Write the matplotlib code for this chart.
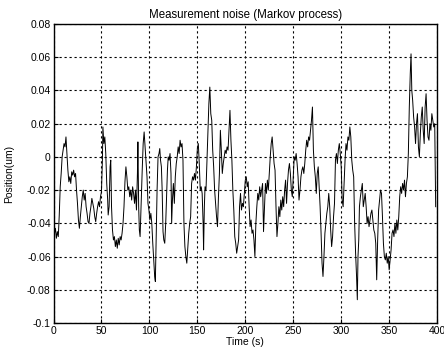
import matplotlib
matplotlib.use("Agg")
import matplotlib.pyplot as plt

title = "Measurement noise (Markov process)"
xlabel = "Time (s)"
ylabel = "Position(um)"
xticks = [0, 50, 100, 150, 200, 250, 300, 350, 400]
yticks = [-0.1, -0.08, -0.06, -0.04, -0.02, 0, 0.02, 0.04, 0.06, 0.08]
ytick_labels = ["-0.1", "-0.08", "-0.06", "-0.04", "-0.02", "0", "0.02", "0.04", "0.06", "0.08"]

time_s = [
    0, 1, 2, 3, 4, 5, 6, 7, 8, 9, 10, 11, 12, 13, 14, 15, 16, 17, 18, 19,
    20, 21, 22, 23, 24, 25, 26, 27, 28, 29, 30, 31, 32, 33, 34, 35, 36, 37, 38, 39,
    40, 41, 42, 43, 44, 45, 46, 47, 48, 49, 50, 51, 51.5, 52.5, 53.5, 54.5, 55.5, 56.5, 57, 58,
    59, 59.7, 60.5, 61.5, 62.5, 63.5, 64.5, 65.5, 66.5, 67.5, 68.5, 69.5, 70.5, 71.5, 72.5, 73.5, 74.5, 75.5, 76.5, 77.5,
    78.5, 79.5, 80.5, 81.5, 82.5, 83.5, 84.5, 85.5, 86.5, 87.5, 88, 88.8, 89.5, 90.3, 91, 91.8, 92.5, 93.5, 94.5, 95.5,
    96.5, 97.5, 98.5, 99.5, 100.5, 101.5, 102.5, 103.5, 104.5, 105.5, 106.2, 107, 108, 109, 110, 110.8, 111.6, 112.5, 113.3, 114.2,
    115, 116, 117, 118, 118.8, 119.6, 120.5, 121.5, 122.5, 123.2, 124, 125, 126, 127, 128, 129, 130, 131, 132, 133,
    134, 135, 136, 137, 138, 139, 140, 141, 142, 143, 144, 145, 146, 147, 148, 149, 150, 151, 152, 153,
    154, 155, 156, 156.5, 157.3, 158, 159, 160, 161, 162, 163, 164, 165, 166, 167, 168, 169, 170, 171, 172,
    173, 174, 175, 176, 177, 178, 179, 180, 181, 182, 183, 184, 185, 186, 187, 188, 189, 190, 191, 192,
    193, 194, 195, 196, 197, 198, 199, 200, 201, 202, 203, 204, 205, 206, 207, 208, 209, 210, 211, 212,
    213, 214, 215, 216, 217, 218, 219, 220, 221, 222, 223, 224, 225, 226, 227, 228, 229, 230, 231, 232,
    233, 234, 235, 236, 237, 238, 239, 240, 241, 242, 243, 244, 245, 246, 247, 248, 249, 250, 251, 252,
    253, 254, 255, 256, 257, 258, 259, 260, 261, 262, 263, 264, 265, 266, 267, 268, 269, 270, 271, 272,
    273, 274, 275, 276, 277, 278, 279, 280, 281, 282, 283, 284, 285, 286, 287, 288, 289, 290, 291, 292,
    293, 294, 295, 296, 297, 298, 299, 300, 301, 302, 303, 304, 305, 306, 307, 308, 309, 310, 311, 312,
    313, 314, 315, 316, 316.8, 317.5, 318.3, 319, 320, 321, 322, 323, 324, 325, 326, 327, 328, 329, 330, 331,
    332, 333, 334, 335, 336, 337, 338, 339, 340, 341, 342, 343, 344, 345, 346, 347, 348, 349, 350, 351,
    352, 353, 354, 355, 356, 357, 358, 359, 360, 361, 362, 363, 364, 365, 366, 367, 368, 369, 370, 371,
    372, 372.8, 373.6, 374.5, 375.5, 376.5, 377.5, 378.5, 379.5, 380.5, 381.5, 382.5, 383.5, 384.5, 385.5, 386.5, 387.5, 388.5, 389.5, 390.5,
    391.5, 392.5, 393.5, 394.5, 395.5, 396.5, 397.5, 398, 398.5,
]

position_um = [
    -0.040, -0.046, -0.043, -0.049, -0.045, -0.048, -0.035, -0.018, -0.010, 0.000, 0.004, 0.008, 0.006, 0.012, 0.002, -0.008, -0.015, -0.012, -0.016, -0.009,
    -0.011, -0.008, -0.012, -0.010, -0.020, -0.028, -0.038, -0.043, -0.036, -0.030, -0.024, -0.020, -0.026, -0.022, -0.030, -0.034, -0.039, -0.040, -0.034, -0.030,
    -0.025, -0.028, -0.031, -0.036, -0.039, -0.034, -0.030, -0.027, -0.030, -0.024, -0.021, -0.002, 0.018, 0.008, 0.012, 0.002, -0.016, -0.026, -0.035, -0.030,
    -0.006, -0.002, -0.030, -0.044, -0.050, -0.048, -0.054, -0.050, -0.055, -0.049, -0.053, -0.048, -0.050, -0.046, -0.040, -0.030, -0.015, -0.006, -0.012, -0.020,
    -0.018, -0.024, -0.020, -0.026, -0.018, -0.022, -0.028, -0.020, -0.032, -0.010, 0.009, -0.030, -0.044, -0.048, -0.035, -0.018, -0.008, 0.008, 0.015, 0.006,
    -0.004, -0.012, -0.028, -0.032, -0.038, -0.034, -0.040, -0.052, -0.062, -0.072, -0.075, -0.050, -0.020, 0.000, 0.002, 0.005, -0.002, -0.006, -0.020, -0.045,
    -0.050, -0.052, -0.040, -0.022, -0.008, 0.000, -0.002, 0.002, -0.010, -0.040, -0.026, -0.016, -0.028, -0.012, -0.004, 0.000, 0.006, 0.002, 0.010, 0.006,
    0.008, -0.002, -0.040, -0.054, -0.060, -0.064, -0.055, -0.046, -0.040, -0.036, -0.016, -0.012, -0.014, -0.010, -0.014, -0.006, 0.005, 0.008, -0.004, -0.020,
    -0.018, -0.022, -0.040, -0.056, -0.030, -0.018, -0.020, -0.002, 0.018, 0.032, 0.042, 0.026, 0.022, 0.004, -0.006, -0.020, -0.028, -0.036, -0.042, -0.024,
    -0.010, 0.016, 0.004, -0.010, -0.004, 0.000, 0.004, 0.002, 0.006, 0.004, 0.016, 0.028, 0.010, -0.002, -0.020, -0.032, -0.048, -0.052, -0.058, -0.054,
    -0.050, -0.030, -0.022, -0.032, -0.028, -0.030, -0.022, -0.014, -0.012, -0.018, -0.015, -0.030, -0.042, -0.038, -0.046, -0.044, -0.050, -0.060, -0.040, -0.030,
    -0.022, -0.026, -0.018, -0.024, -0.020, -0.016, -0.045, -0.030, -0.016, -0.022, -0.014, -0.020, -0.010, 0.000, 0.008, 0.012, 0.004, -0.004, -0.008, -0.030,
    -0.048, -0.040, -0.030, -0.036, -0.026, -0.032, -0.024, -0.030, -0.020, -0.014, -0.028, -0.016, -0.008, -0.004, -0.010, -0.020, -0.024, -0.012, 0.000, -0.002,
    0.002, -0.004, -0.012, -0.026, -0.020, -0.012, -0.008, -0.006, -0.010, -0.004, 0.004, 0.010, 0.006, 0.012, 0.010, 0.016, 0.022, 0.030, 0.004, -0.006,
    -0.012, -0.022, -0.010, -0.006, -0.018, -0.030, -0.046, -0.064, -0.072, -0.060, -0.046, -0.040, -0.034, -0.030, -0.022, -0.030, -0.044, -0.054, -0.048, -0.036,
    -0.028, -0.002, 0.002, -0.004, 0.004, 0.008, 0.002, -0.006, -0.026, -0.030, -0.016, -0.002, 0.008, 0.004, 0.012, 0.010, 0.018, 0.012, -0.002, -0.008,
    -0.012, -0.040, -0.058, -0.072, -0.086, -0.060, -0.050, -0.030, -0.024, -0.020, -0.016, -0.030, -0.026, -0.022, -0.030, -0.040, -0.036, -0.042, -0.038, -0.034,
    -0.032, -0.038, -0.044, -0.046, -0.052, -0.074, -0.050, -0.032, -0.026, -0.020, -0.022, -0.036, -0.052, -0.060, -0.062, -0.058, -0.064, -0.060, -0.068, -0.062,
    -0.056, -0.046, -0.044, -0.048, -0.040, -0.046, -0.038, -0.044, -0.036, -0.024, -0.018, -0.022, -0.016, -0.020, -0.014, -0.024, -0.016, -0.012, 0.002, 0.030,
    0.050, 0.062, 0.040, 0.034, 0.024, 0.018, 0.008, 0.020, 0.026, 0.006, 0.000, 0.014, 0.024, 0.030, 0.016, 0.008, 0.030, 0.038, 0.022, 0.012,
    0.010, 0.020, 0.016, 0.026, 0.022, 0.018, 0.020, -0.005, -0.030,
]

plt.rcParams['font.family'] = ['Liberation Sans', 'DejaVu Sans']

fig = plt.figure(figsize=(4.44, 3.56), dpi=100)
ax = fig.add_axes([0.1205, 0.0927, 0.864, 0.84])

ax.plot(time_s, position_um, color='black', linewidth=0.7)

ax.set_xlim(0, 400)
ax.set_ylim(-0.1, 0.08)
ax.set_xticks(xticks)
ax.set_xticklabels([str(t) for t in xticks])
ax.set_yticks(yticks)
ax.set_yticklabels(ytick_labels)

ax.grid(True, color='black', linestyle=(0, (2, 2.5)), linewidth=0.8)
ax.tick_params(direction='in', length=3, labelsize=7.5, pad=2, colors='black')
for s in ax.spines.values():
    s.set_linewidth(1.0)
    s.set_color('black')

ax.set_title(title, fontsize=8.3, pad=4)
ax.set_xlabel(xlabel, fontsize=7.5, labelpad=1)
ax.set_ylabel(ylabel, fontsize=7.5, labelpad=9)

fig.savefig("out.png", dpi=100)
